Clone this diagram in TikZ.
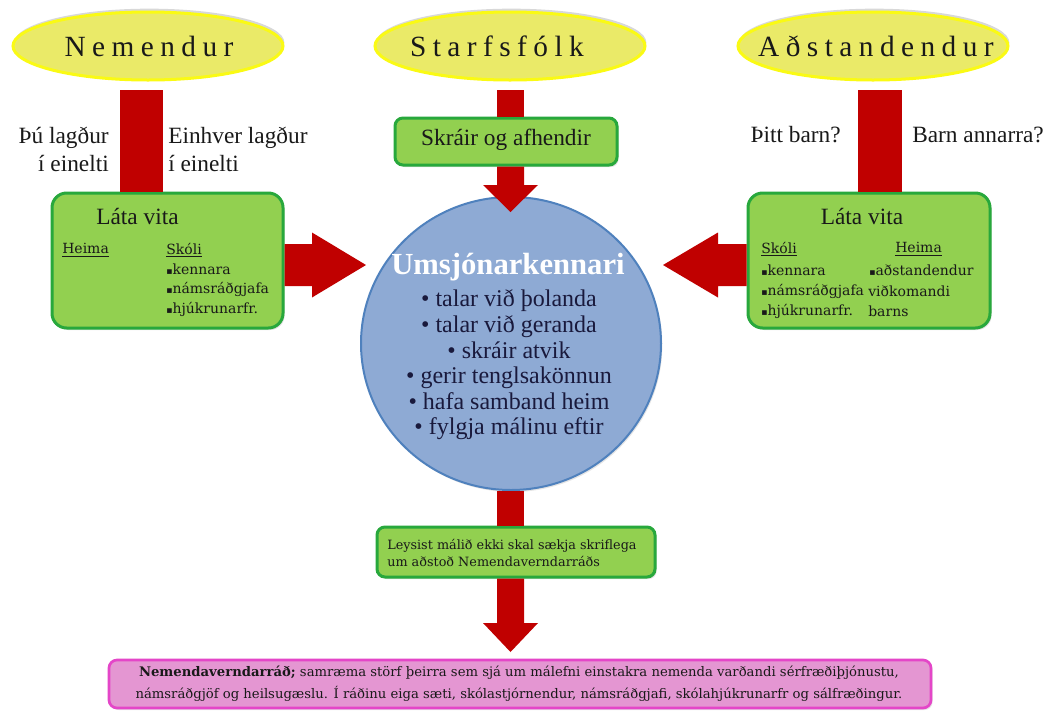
\documentclass[tikz,border=0pt]{standalone}
\usepackage{fontspec}
\setmainfont{Liberation Serif}
\newfontfamily\boxfont{DejaVu Serif}
\newfontfamily\symfont{DejaVu Sans}
\usetikzlibrary{shapes.geometric,shadows,calc}
\definecolor{ylfill}{RGB}{234,234,104}
\definecolor{ylborder}{RGB}{250,250,20}
\definecolor{gfill}{RGB}{146,208,80}
\definecolor{gborder}{RGB}{40,168,60}
\definecolor{cfill}{RGB}{142,170,212}
\definecolor{cborder}{RGB}{79,129,189}
\definecolor{pfill}{RGB}{228,150,210}
\definecolor{pborder}{RGB}{228,70,200}
\definecolor{redc}{RGB}{192,0,0}
\definecolor{navy}{RGB}{25,25,60}
\newcommand\sqb{{\symfont\fontsize{7}{8}\selectfont ▪}}
\begin{document}
\begin{tikzpicture}[x=0.75pt,y=-0.75pt,
  titleell/.style={ellipse, draw=ylborder, line width=2.25pt, fill=ylfill,
    minimum width=202.5pt, minimum height=51pt, inner sep=0pt,
    drop shadow={shadow xshift=1pt, shadow yshift=2.5pt, opacity=0.3}},
  titletxt/.style={inner sep=0pt, text=black!90,
    font={\fontsize{22}{26}\selectfont\addfontfeatures{LetterSpace=22}}},
  gbox/.style={draw=gborder, line width=2.25pt, fill=gfill, inner sep=0pt,
    drop shadow={shadow xshift=1.2pt, shadow yshift=-1.5pt, opacity=0.25}},
  lbl/.style={inner sep=0pt, text=black!90, font=\fontsize{17.5}{21}\selectfont},
  boxtxt/.style={inner sep=0pt, anchor=west, text=black!90, font=\boxfont\fontsize{10.5}{12}\selectfont},
  bar/.style={draw=redc}
]
\fill[white] (0,0) rectangle (1047,711);
\useasboundingbox (0,0) rectangle (1047,711);

% title ellipses
\node[titleell] (nemE) at (148,46) {};
\node[titletxt] (nemT) at (149,46) {Nemendur};
\node[titleell] (staE) at (510,46) {};
\node[titletxt] (staT) at (497,46) {Starfsfólk};
\node[titleell] (adsE) at (873,46) {};
\node[titletxt] (adsT) at (876,46) {Aðstandendur};

% pink box
\node[draw=pborder, line width=2pt, fill=pfill, rounded corners=6pt, inner sep=0pt,
  minimum width=616.5pt, minimum height=36pt,
  drop shadow={shadow xshift=1.2pt, shadow yshift=-1.5pt, opacity=0.2}] (pk) at (520,684) {};
\node[inner sep=0pt, align=center, text=black!90, font=\boxfont\fontsize{9.9}{16.5}\selectfont] (pkT) at (519,684)
  {{\bfseries Nemendaverndarráð;} samræma störf þeirra sem sjá um málefni einstakra nemenda varðandi sérfræðiþjónustu,\\
   námsráðgjöf og heilsugæslu. Í ráðinu eiga sæti, skólastjórnendur, námsráðgjafi, skólahjúkrunarfr og sálfræðingur.};

% central circle
\node[ellipse, fill=cfill, draw=cborder, line width=1.5pt, inner sep=0pt,
  minimum width=225pt, minimum height=219.75pt,
  drop shadow={shadow xshift=1pt, shadow yshift=-1.5pt, opacity=0.2}] (circ) at (511,343.5) {};
\node[inner sep=0pt, text=white, font=\fontsize{23}{26}\selectfont\bfseries] (umT) at (508,267) {Umsjónarkennari};
\node[inner sep=0pt, align=center, text=navy, font=\fontsize{18}{19.2}\selectfont] (bl) at (509,365)
  {• talar við þolanda\\ • talar við geranda\\ • skráir atvik\\ • gerir tenglsakönnun\\ • hafa samband heim\\ • fylgja málinu eftir};

% green boxes
\node[gbox, minimum width=173.25pt, minimum height=101.25pt, rounded corners=11pt] (lbox) at (167.5,260.5) {};
\node[gbox, minimum width=181.5pt, minimum height=101.25pt, rounded corners=11pt] (rbox) at (869,260.5) {};
\node[gbox, minimum width=166.5pt, minimum height=35.25pt, rounded corners=6pt] (sk) at (506,141.5) {};
\node[lbl] (skT) at (506,140) {Skráir og afhendir};
\node[gbox, minimum width=208.5pt, minimum height=37.5pt, rounded corners=6pt] (leys) at (516,552) {};
\node[boxtxt, align=left, font=\boxfont\fontsize{9.6}{12.75}\selectfont] (leysT) at (387,553)
  {Leysist málið ekki skal sækja skriflega\\um aðstoð Nemendaverndarráðs};

% left box content
\node[lbl] (lv1) at (137.5,216) {Láta vita};
\node[boxtxt] (lh) at (62,250) {\underline{Heima}};
\node[boxtxt] (ls) at (166,250) {\underline{Skóli}};
\node[boxtxt] (l1) at (166,269) {\sqb kennara};
\node[boxtxt] (l2) at (166,289) {\sqb námsráðgjafa};
\node[boxtxt] (l3) at (166,309) {\sqb hjúkrunarfr.};

% right box content
\node[lbl] (lv2) at (862,216) {Láta vita};
\node[boxtxt] (rs) at (761,249) {\underline{Skóli}};
\node[boxtxt] (rh) at (895,249) {\underline{Heima}};
\node[boxtxt] (r1) at (761,270) {\sqb kennara};
\node[boxtxt] (r2) at (761,291) {\sqb námsráðgjafa};
\node[boxtxt] (r3) at (761,311) {\sqb hjúkrunarfr.};
\node[boxtxt] (r4) at (869,270) {\sqb aðstandendur};
\node[boxtxt] (r5) at (868,291) {viðkomandi};
\node[boxtxt] (r6) at (868,311) {barns};

% side labels
\node[lbl, anchor=east, align=right] (q1) at (109,149) {Þú lagður\\í einelti};
\node[lbl, anchor=west, align=left] (q2) at (168,149) {Einhver lagður\\í einelti};
\node[lbl, anchor=east] (q3) at (841,135) {Þitt barn?};
\node[lbl, anchor=west] (q4) at (912,135) {Barn annarra?};

% red bars
\coordinate (nb) at (141.5,90);
\draw[bar, line width=32.25pt] (nb) -- (nb |- lbox.north);
\coordinate (sb) at (510.5,90);
\draw[bar, line width=20.25pt] (sb) -- (sb |- sk.north);
\coordinate (ab) at (880,90);
\draw[bar, line width=33pt] (ab) -- (ab |- rbox.north);

% Starfsfolk arrow into circle
\coordinate (t1) at (510.5,212);
\fill[redc] ($(t1 |- sk.south)+(-13.5,0)$) -- ($(t1)+(-13.5,-27)$) -- ($(t1)+(-27.5,-27)$) -- (t1)
  -- ($(t1)+(27.5,-27)$) -- ($(t1)+(13.5,-27)$) -- ($(t1 |- sk.south)+(13.5,0)$) -- cycle;

% circle to Leysist box, then arrow to pink box
\coordinate (t2) at (510.5,652);
\draw[bar, line width=20.25pt] (t2 |- circ.south) -- (t2 |- leys.north);
\fill[redc] ($(t2 |- leys.south)+(-13.5,0)$) -- ($(t2)+(-13.5,-29)$) -- ($(t2)+(-27.5,-29)$) -- (t2)
  -- ($(t2)+(27.5,-29)$) -- ($(t2)+(13.5,-29)$) -- ($(t2 |- leys.south)+(13.5,0)$) -- cycle;

% left arrow into circle
\coordinate (t3) at (366,265);
\fill[redc] ($(t3 -| lbox.east)+(0,-21)$) -- ($(t3)+(-54,-21)$) -- ($(t3)+(-54,-32.5)$) -- (t3)
  -- ($(t3)+(-54,32.5)$) -- ($(t3)+(-54,21)$) -- ($(t3 -| lbox.east)+(0,21)$) -- cycle;

% right arrow into circle
\coordinate (t4) at (663,265);
\fill[redc] ($(t4 -| rbox.west)+(0,-21)$) -- ($(t4)+(55,-21)$) -- ($(t4)+(55,-32.5)$) -- (t4)
  -- ($(t4)+(55,32.5)$) -- ($(t4)+(55,21)$) -- ($(t4 -| rbox.west)+(0,21)$) -- cycle;
\end{tikzpicture}
\end{document}
